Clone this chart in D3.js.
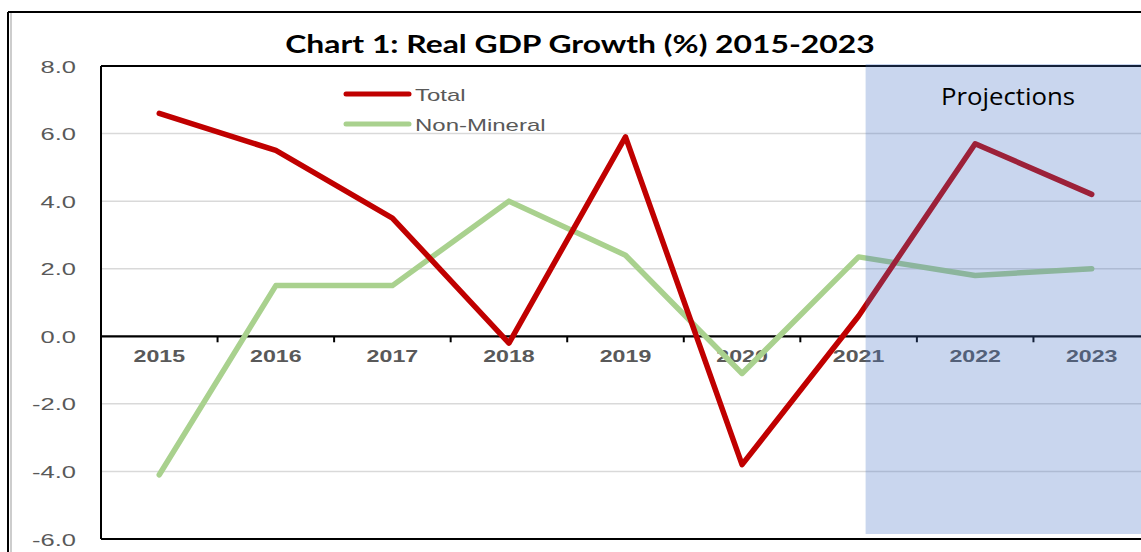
<!DOCTYPE html>
<html>
<head>
<meta charset="utf-8">
<script src="https://cdn.jsdelivr.net/npm/d3@7"></script>
<style>
  html, body { margin: 0; padding: 0; background: #fff; }
  svg { display: block; }
</style>
</head>
<body>
<svg id="chart" width="1141" height="552"></svg>
<script>
// ---- data ----
const years = ["2015","2016","2017","2018","2019","2020","2021","2022","2023"];
const totalGrowth = [6.6, 5.5, 3.5, -0.2, 5.9, -3.8, 0.6, 5.7, 4.2];
const nonMineralGrowth = [-4.1, 1.5, 1.5, 4.0, 2.4, -1.1, 2.35, 1.8, 2.0];
const yTicks = [-6, -4, -2, 0, 2, 4, 6, 8];
const seriesNames = ["Total", "Non-Mineral"];
const projectionStart = "2021";
const titleText = "Chart 1: Real GDP Growth (%) 2015-2023";
const projectionLabel = "Projections";

const svg = d3.select("#chart");
const W = 1141, H = 552;
svg.append("rect").attr("width", W).attr("height", H).attr("fill", "#fff");

const plot = { left: 101, right: 1150, top: 66, bottom: 539 };
const x = d3.scaleBand().domain(years).range([plot.left, plot.right]).padding(0);
const y = d3.scaleLinear().domain([-6, 8]).range([plot.bottom, plot.top]);
const cx = d => x(d) + x.bandwidth() / 2;

// outer frame
svg.append("line").attr("x1", 8).attr("x2", 8).attr("y1", 12).attr("y2", H).attr("stroke", "#000").attr("stroke-width", 2);
svg.append("line").attr("x1", 11).attr("x2", 11).attr("y1", 13).attr("y2", H).attr("stroke", "#bdbdbd").attr("stroke-width", 1.5);
svg.append("line").attr("x1", 8).attr("x2", W).attr("y1", 12).attr("y2", 12).attr("stroke", "#000").attr("stroke-width", 2);

// gridlines
svg.append("g").selectAll("line").data(yTicks.filter(t => t !== 0 && t !== -6 && t !== 8)).join("line")
  .attr("x1", plot.left).attr("x2", plot.right)
  .attr("y1", d => y(d)).attr("y2", d => y(d))
  .attr("stroke", "#d9d9d9").attr("stroke-width", 1.5);

// plot border
svg.append("line").attr("x1", plot.left).attr("x2", plot.right).attr("y1", y(8)).attr("y2", y(8)).attr("stroke", "#000").attr("stroke-width", 2);
svg.append("line").attr("x1", plot.left).attr("x2", plot.right).attr("y1", y(-6)).attr("y2", y(-6)).attr("stroke", "#000").attr("stroke-width", 2.2);
svg.append("line").attr("x1", plot.left).attr("x2", plot.left).attr("y1", y(8)).attr("y2", y(-6)).attr("stroke", "#000").attr("stroke-width", 2);

// y axis labels (hyphen-minus as in the original)
const fmt = d3.format(".1f");
const yAxis = d3.axisLeft(y).tickValues(yTicks).tickFormat(d => fmt(d).replace("\u2212", "-")).tickSize(0).tickPadding(0);
const yg = svg.append("g").attr("transform", `translate(76,0)`).call(yAxis);
yg.select(".domain").remove();
yg.selectAll("text")
  .attr("font-family", "Liberation Sans, Arial, sans-serif")
  .attr("font-size", 17).attr("fill", "#595959")
  .attr("x", 0).attr("dy", "0.36em")
  .attr("transform", "scale(1.5,1)");

// zero axis with ticks at band boundaries
const xg = svg.append("g").attr("transform", `translate(0,${y(0)})`);
xg.append("line").attr("x1", plot.left).attr("x2", plot.right).attr("y1", 0).attr("y2", 0).attr("stroke", "#000").attr("stroke-width", 2.2);
xg.selectAll("line.tk").data(years.slice(1)).join("line").attr("class", "tk")
  .attr("x1", d => x(d)).attr("x2", d => x(d)).attr("y1", 0).attr("y2", 6)
  .attr("stroke", "#000").attr("stroke-width", 2);
xg.selectAll("text").data(years).join("text")
  .attr("transform", d => `translate(${cx(d)},26) scale(1.45,1)`)
  .attr("text-anchor", "middle")
  .attr("font-family", "Liberation Sans, Arial, sans-serif")
  .attr("font-weight", "bold").attr("font-size", 16).attr("fill", "#595959")
  .text(d => d);

// lines
const line = d3.line().x((d, i) => cx(years[i])).y(d => y(d));
svg.append("path").datum(nonMineralGrowth).attr("d", line)
  .attr("fill", "none").attr("stroke", "#a9d18e").attr("stroke-width", 5.5)
  .attr("stroke-linejoin", "round").attr("stroke-linecap", "round");
svg.append("path").datum(totalGrowth).attr("d", line)
  .attr("fill", "none").attr("stroke", "#c00000").attr("stroke-width", 5.5)
  .attr("stroke-linejoin", "round").attr("stroke-linecap", "round");

// legend
const legendColors = ["#c00000", "#a9d18e"];
const lg = svg.append("g");
seriesNames.forEach((name, i) => {
  const ly = 94 + i * 30;
  lg.append("line").attr("x1", 346).attr("x2", 409).attr("y1", ly).attr("y2", ly)
    .attr("stroke", legendColors[i]).attr("stroke-width", 5).attr("stroke-linecap", "round");
  lg.append("text").attr("transform", `translate(415,${ly + 7}) scale(1.5,1)`)
    .attr("font-family", "Liberation Sans, Arial, sans-serif").attr("font-size", 16)
    .attr("fill", "#595959").text(name);
});

// projection shading
const shadeX = cx(projectionStart) + 7;
svg.append("rect").attr("x", shadeX).attr("y", y(8) - 2).attr("width", W - shadeX + 20)
  .attr("height", y(-6) - 5 - (y(8) - 2))
  .attr("fill", "rgb(68,114,196)").attr("fill-opacity", 0.29);
svg.append("text").attr("transform", `translate(1008,105) scale(1.12,1)`)
  .attr("text-anchor", "middle").attr("font-family", "Open Sans, sans-serif")
  .attr("font-size", 23).attr("fill", "#000").text(projectionLabel);

// title
svg.append("text").attr("transform", `translate(580,53) scale(1.3,1)`)
  .attr("text-anchor", "middle").attr("font-family", "Lato, sans-serif")
  .attr("font-weight", "bold").attr("font-size", 24.5).attr("fill", "#000").text(titleText);
</script>
</body>
</html>
